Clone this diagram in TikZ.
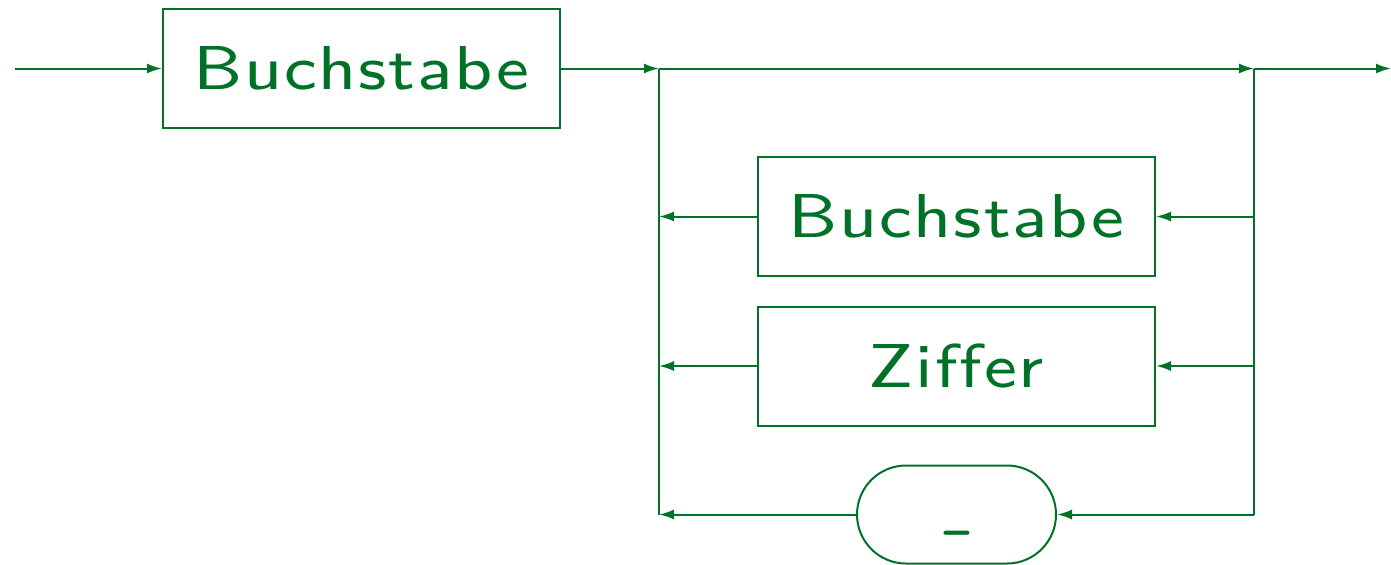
\documentclass[tikz,border=0pt]{standalone}
\usepackage{fontspec}
\newfontfamily\smallss[LetterSpace=3,FakeStretch=1.12,Ligatures=NoCommon]{lmsans8-regular.otf}
\usetikzlibrary{arrows.meta,shapes.misc}
\definecolor{dg}{RGB}{0,114,40}
\begin{document}
\begin{tikzpicture}[x=0.5pt,y=-0.5pt,
  ln/.style={draw=dg,line width=1pt},
  term/.style={ln,minimum width=198.5pt,minimum height=59.5pt,inner sep=0pt,font=\fontsize{31}{38}\selectfont\smallss,text=dg},
  lit/.style={ln,rounded rectangle,minimum width=99.5pt,minimum height=49pt,inner sep=0pt,font=\fontsize{32}{38}\selectfont\ttfamily,text=dg},
  arr/.style={ln,-{Latex[length=7.5pt,width=5pt]}}]
\useasboundingbox (0,0) rectangle (1391,564);
\node[term] (b1) at (361.5,68.5) {Buchstabe};
\node[term] (b2) at (956.5,216.5) {Buchstabe};
\node[term] (b3) at (956.5,366) {Ziffer};
\node[lit] (u) at (956.5,514.5) {\raisebox{-14.5pt}{\_}};
\coordinate (s) at (15,68.5);
\coordinate (L0) at (659,68.5);
\coordinate (R0) at (1254,68.5);
\coordinate (e) at (1391,68.5);
\coordinate (Lb) at (659,514.5);
\coordinate (Rb) at (1254,514.5);
\draw[arr] (s) -- (b1.west);
\draw[arr] (b1.east) -- (L0);
\draw[arr] (L0) -- (R0);
\draw[arr] (R0) -- (e);
\draw[ln] (L0) -- (Lb);
\draw[ln] (R0) -- (Rb);
\draw[arr] (R0 |- b2.east) -- (b2.east);
\draw[arr] (b2.west) -- (L0 |- b2.west);
\draw[arr] (R0 |- b3.east) -- (b3.east);
\draw[arr] (b3.west) -- (L0 |- b3.west);
\draw[arr] (Rb) -- (u.east);
\draw[arr] (u.west) -- (Lb);
\end{tikzpicture}
\end{document}
